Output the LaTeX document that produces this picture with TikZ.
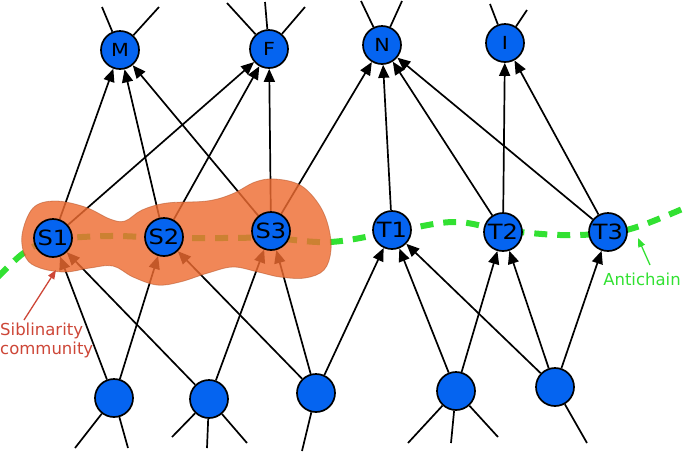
\documentclass[tikz,border=0pt]{standalone}
\usepackage{fontspec}
\setmainfont{DejaVu Sans}
\newfontfamily\nodefont[FakeStretch=1.15]{DejaVu Sans}
\usetikzlibrary{arrows.meta,backgrounds}
\definecolor{nodeblue}{RGB}{5,100,240}
\definecolor{blobred}{RGB}{238,108,50}
\definecolor{chaingreen}{RGB}{50,225,50}
\definecolor{labelred}{RGB}{205,70,55}
\tikzstyle{taxon} = [circle, draw=black, line width=1.7pt, fill=nodeblue, minimum size=38pt, inner sep=0pt, font=\nodefont\fontsize{18}{18}\selectfont]
\tikzstyle{sibling} = [taxon, font=\nodefont\fontsize{21}{21}\selectfont]
\tikzstyle{arrow} = [draw, line width=1.7pt, -{Triangle[length=13pt,width=11pt]}]
\tikzstyle{stub} = [draw, line width=1.7pt]
\tikzstyle{labelarrow} = [draw, line width=1.3pt, -{Triangle[length=9pt,width=7pt]}]

\begin{document}
\begin{tikzpicture}[x=1pt,y=-1pt]
    \tikzstyle{every node}=[font=\fontsize{16.5}{19}\selectfont]
    \useasboundingbox (0,0) rectangle (685,451);
    % parents
    \node (M) [taxon] at (120,50) {M};
    \node (F) [taxon] at (269,49) {F};
    \node (N) [taxon] at (382,45) {N};
    \node (I) [taxon] at (505,43) {I};
    % middle row
    \node (S1) [sibling] at (53,238) {S1};
    \node (S2) [sibling] at (164,237) {S2};
    \node (S3) [sibling] at (271,231) {S3};
    \node (T1) [sibling] at (392,230) {T1};
    \node (T2) [sibling] at (503,232) {T2};
    \node (T3) [sibling] at (608,232) {T3};
    % children
    \node (b1) [taxon] at (114,398) {};
    \node (b2) [taxon] at (209,399) {};
    \node (b3) [taxon] at (316,393) {};
    \node (b4) [taxon] at (456,391) {};
    \node (b5) [taxon] at (555,387) {};

    % labels
    \node (sib) [anchor=north west, align=left, text=labelred, inner sep=0pt] at (0,323) {Siblinarity\\community};
    \node (anti) [text=chaingreen, inner sep=0pt] at (642,279) {Antichain};

    % loose ends
    \coordinate (m1) at (102,7);
    \coordinate (m2) at (159,7);
    \coordinate (f1) at (227,3);
    \coordinate (f2) at (265,2);
    \coordinate (f3) at (305,7);
    \coordinate (n1) at (361,1);
    \coordinate (n2) at (402,1);
    \coordinate (i1) at (490,4);
    \coordinate (i2) at (527,10);
    \coordinate (c1a) at (75,448);
    \coordinate (c1b) at (128,448);
    \coordinate (c2a) at (172,437);
    \coordinate (c2b) at (207,448);
    \coordinate (c2c) at (247,443);
    \coordinate (c3a) at (302,451);
    \coordinate (c4a) at (408,443);
    \coordinate (c4b) at (451,443);
    \coordinate (c4c) at (498,437);
    \coordinate (c5a) at (587,443);
    \coordinate (sibtail) at (24,320);
    \coordinate (sibhead) at (56,270);
    \coordinate (antitail) at (650,265);
    \coordinate (antihead) at (638,238);

    \begin{scope}[on background layer]
    \draw [stub] (M) -- (m1);
    \draw [stub] (M) -- (m2);
    \draw [stub] (F) -- (f1);
    \draw [stub] (F) -- (f2);
    \draw [stub] (F) -- (f3);
    \draw [stub] (N) -- (n1);
    \draw [stub] (N) -- (n2);
    \draw [stub] (I) -- (i1);
    \draw [stub] (I) -- (i2);
    \draw [stub] (b1) -- (c1a);
    \draw [stub] (b1) -- (c1b);
    \draw [stub] (b2) -- (c2a);
    \draw [stub] (b2) -- (c2b);
    \draw [stub] (b2) -- (c2c);
    \draw [stub] (b3) -- (c3a);
    \draw [stub] (b4) -- (c4a);
    \draw [stub] (b4) -- (c4b);
    \draw [stub] (b4) -- (c4c);
    \draw [stub] (b5) -- (c5a);

    \draw [arrow] (S1) -- (M);
    \draw [arrow] (S1) -- (F);
    \draw [arrow] (S2) -- (M);
    \draw [arrow] (S2) -- (F);
    \draw [arrow] (S3) -- (M);
    \draw [arrow] (S3) -- (F);
    \draw [arrow] (S3) -- (N);
    \draw [arrow] (T1) -- (N);
    \draw [arrow] (T2) -- (N);
    \draw [arrow] (T2) -- (I);
    \draw [arrow] (T3) -- (N);
    \draw [arrow] (T3) -- (I);

    \draw [arrow] (b1) -- (S1);
    \draw [arrow] (b1) -- (S2);
    \draw [arrow] (b2) -- (S1);
    \draw [arrow] (b2) -- (S3);
    \draw [arrow] (b3) -- (S2);
    \draw [arrow] (b3) -- (S3);
    \draw [arrow] (b3) -- (T1);
    \draw [arrow] (b4) -- (T1);
    \draw [arrow] (b4) -- (T2);
    \draw [arrow] (b5) -- (T1);
    \draw [arrow] (b5) -- (T2);
    \draw [arrow] (b5) -- (T3);

    % antichain
    \draw [chaingreen, line width=6pt, dash pattern=on 13pt off 10pt]
        plot [smooth, tension=0.6] coordinates {(-2,277) (25,252) (53,240) (110,236) (165,238) (220,238) (271,238) (330,242) (392,232) (453,222) (503,230) (560,235) (608,233) (640,226) (687,207)};

    % community
    \filldraw [fill=blobred, draw=blobred!75!black, line width=0.8pt, fill opacity=0.82, draw opacity=0.5]
        plot [smooth cycle, tension=0.6] coordinates {(22,235) (33,208) (55,201) (85,207) (110,219) (125,221) (142,210) (167,203) (207,201) (232,194) (255,182) (275,179) (300,185) (318,203) (328,225) (331,250) (324,270) (305,278) (280,277) (258,272) (233,267) (208,273) (180,282) (157,285) (133,277) (113,266) (90,268) (65,272) (40,268) (26,258)};
    \end{scope}

    \draw [labelarrow, labelred] (sibtail) -- (sibhead);
    \draw [labelarrow, chaingreen] (antitail) -- (antihead);

\end{tikzpicture}
\end{document}
